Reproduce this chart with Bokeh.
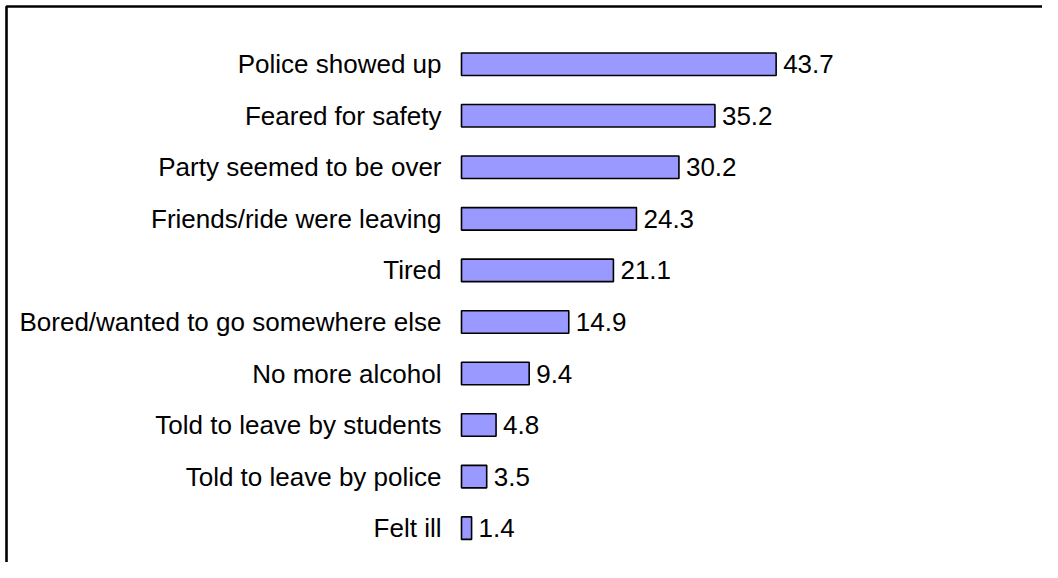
from bokeh.plotting import figure
from bokeh.models import Range1d, ColumnDataSource, BoxAnnotation
from bokeh.embed import file_html
from bokeh.resources import INLINE
from bokeh.core.properties import value

# ---- data ----
categories = [
    "Police showed up",
    "Feared for safety",
    "Party seemed to be over",
    "Friends/ride were leaving",
    "Tired",
    "Bored/wanted to go somewhere else",
    "No more alcohol",
    "Told to leave by students",
    "Told to leave by police",
    "Felt ill",
]
percent = [43.7, 35.2, 30.2, 24.3, 21.1, 14.9, 9.4, 4.8, 3.5, 1.4]
value_labels = ["43.7", "35.2", "30.2", "24.3", "21.1", "14.9", "9.4", "4.8", "3.5", "1.4"]
positions = list(range(len(categories)))

# ---- layout ----
W, H = 1042, 562
x0_px = 461.0          # pixel position of the zero line inside the canvas
px_per_unit = 7.2
row_px = 51.55
first_row_px = 63.7
frame_px = 6.0

x_range = Range1d(-x0_px / px_per_unit, (W - x0_px) / px_per_unit)
y_top = -first_row_px / row_px
y_bottom = y_top + H / row_px
y_range = Range1d(start=y_bottom, end=y_top)

src = ColumnDataSource(dict(pos=positions, cat=categories, val=percent, lab=value_labels))

p = figure(width=W, height=H, x_range=x_range, y_range=y_range,
           output_backend="svg", toolbar_location=None, min_border=0)
p.axis.visible = False
p.grid.visible = False
p.outline_line_color = None
p.background_fill_color = "white"
p.border_fill_color = "white"

p.hbar(y="pos", left=0, right="val", height=0.437, source=src,
       fill_color="#9999FF", line_color="black", line_width=1.6)

font = value("Liberation Sans")
p.text(x=0, y="pos", text="cat", source=src, x_offset=-20,
       text_align="right", text_baseline="middle", text_font=font,
       text_font_size="26px", text_color="black")
p.text(x="val", y="pos", text="lab", source=src, x_offset=7,
       text_align="left", text_baseline="middle", text_font=font,
       text_font_size="26px", text_color="black")

# frame: only its top and left edges fall inside the picture
p.add_layout(BoxAnnotation(
    left=x_range.start + frame_px / px_per_unit,
    right=x_range.end + 20,
    top=y_top + frame_px / row_px,
    bottom=y_bottom + 5,
    fill_alpha=0, fill_color=None,
    line_color="black", line_width=2.6, line_alpha=1.0))

open("out.html", "w").write(file_html(p, INLINE))
